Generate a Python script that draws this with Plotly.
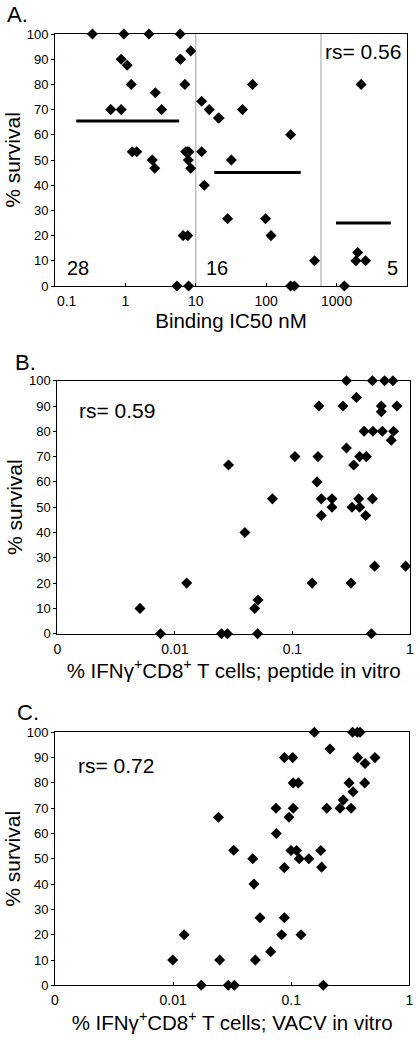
import math
import plotly.graph_objects as go

FONT = "Liberation Sans, Arial, sans-serif"
NB = "\u00a0"

# ---------------- Panel A data ----------------
a_ic50_nM = [0.34, 0.95, 2.16, 6.0,
             0.87, 6.0, 6.1,
             1.06, 8.46,
             1.21, 7.0,
             2.66,
             0.62, 0.87, 3.27,
             1.25, 1.45, 7.18, 8.0, 7.6,
             2.41, 7.83,
             2.61, 8.46,
             6.6, 7.7,
             5.4, 7.9,
             12.1, 15.5, 21, 21.5, 46, 64, 222, 12.1, 32, 13.2, 28.3, 98, 117, 222, 252, 486,
             2230, 1290, 1990, 1880, 2580]
a_survival = [100, 100, 100, 100,
              90, 90, 90,
              87.6, 93.3,
              80, 80,
              76.7,
              70, 70, 70,
              53.3, 53.3, 53.3, 53.3, 53.3,
              50, 50,
              46.7, 46.7,
              20, 20,
              0, 0,
              73.3, 70, 66.7, 66.7, 70, 80, 60, 53.3, 50, 40, 26.7, 26.7, 20, 0, 0, 10,
              80, 0, 13.3, 10, 10]
a_group_counts = ["28", "16", "5"]
a_count_x = [0.21, 20, 6300]
a_group_mean = [65.5, 45.0, 25.0]
a_mean_x_start = [0.2, 18.3, 980]
a_mean_x_end = [5.8, 309, 5900]
a_dividers = [10, 600]
a_rs = "rs= 0.56"
a_ticks = [0.1, 1, 10, 100, 1000, 10000]
a_ticktext = [NB * 6 + "0.1", "1", "10", "100", "1000", "10000" + NB * 10]

# ---------------- Panel B data ----------------
b_pct_ifng = [0.288, 0.479, 0.608, 0.716, 0.35, 0.168, 0.269, 0.57, 0.57, 0.774,
              0.407, 0.484, 0.582, 0.725, 0.693, 0.105, 0.165, 0.288, 0.373, 0.425,
              0.332, 0.0286,
              0.162, 0.176, 0.217, 0.217, 0.176, 0.321, 0.366, 0.373, 0.42, 0.479,
              0.0676, 0.0394, 0.0126, 0.147, 0.315, 0.5, 0.918, 0.00505, 0.0478, 0.051,
              0.00755, 0.0249, 0.028, 0.0505, 0.469]
b_survival = [100, 100, 100, 100, 93.4, 90, 90, 90, 87.7, 90,
              80, 80, 80, 80, 76.5, 70, 70, 73.4, 70, 70,
              66.7, 66.7,
              60, 53.3, 53.3, 50, 46.7, 50, 53.3, 50, 46.7, 53.3,
              53.3, 40, 20, 20, 20, 26.7, 26.7, 10, 10, 13.3,
              0, 0, 0, 0, 0]
b_rs = "rs= 0.59"

# ---------------- Panel C data ----------------
c_pct_ifng = [0.157, 0.331, 0.363, 0.383, 0.213, 0.0875, 0.103, 0.366, 0.512, 0.422,
              0.104, 0.115, 0.309, 0.419, 0.334, 0.276, 0.0743, 0.104, 0.2, 0.259,
              0.321, 0.0958, 0.0242, 0.0748,
              0.0326, 0.0472, 0.0484, 0.0875, 0.0996, 0.111, 0.117, 0.141, 0.178, 0.181,
              0.0544, 0.0875, 0.0124, 0.083, 0.121, 0.067, 0.00993, 0.0248, 0.0497,
              0.0173, 0.0293, 0.033, 0.187]
c_survival = [100, 100, 100, 100, 93.4, 90, 90, 90, 90, 87.7,
              80, 80, 80, 80, 76.5, 73.2, 70, 70, 70, 70,
              70, 66.4, 66.4, 60,
              53.4, 50, 40, 46.5, 53.3, 53.3, 50, 50, 53.3, 46.7,
              26.7, 26.7, 20, 20, 20, 13.3, 10, 10, 10,
              0, 0, 0, 0]
c_rs = "rs= 0.72"

bc_ticks = [0.001, 0.01, 0.1, 1]
bc_ticktext = ["0", "0.01", "0.1", "1"]
y_ticks = list(range(0, 101, 10))

fig = go.Figure()

marker = dict(symbol="diamond", size=8.5, color="black", line=dict(width=0))

# Panel A
for d in a_dividers:
    fig.add_trace(go.Scatter(x=[d, d], y=[0, 100], mode="lines",
                             line=dict(color="#a0a0a0", width=1),
                             xaxis="x", yaxis="y", showlegend=False, hoverinfo="skip"))
for x0, x1, m in zip(a_mean_x_start, a_mean_x_end, a_group_mean):
    fig.add_trace(go.Scatter(x=[x0, x1], y=[m, m], mode="lines",
                             line=dict(color="black", width=3),
                             xaxis="x", yaxis="y", showlegend=False))
fig.add_trace(go.Scatter(x=a_ic50_nM, y=a_survival, mode="markers", marker=marker,
                         xaxis="x", yaxis="y", showlegend=False, cliponaxis=False))
# Panel B
fig.add_trace(go.Scatter(x=b_pct_ifng, y=b_survival, mode="markers", marker=marker,
                         xaxis="x2", yaxis="y2", showlegend=False, cliponaxis=False))
# Panel C
fig.add_trace(go.Scatter(x=c_pct_ifng, y=c_survival, mode="markers", marker=marker,
                         xaxis="x3", yaxis="y3", showlegend=False, cliponaxis=False))

W, H = 418, 1043


def px_x(p):
    return p / W


def px_y(p):
    return 1 - p / H


def xax(domain, rng, tickvals, ticktext, title, anchor):
    return dict(type="log", range=rng, domain=domain, anchor=anchor,
                tickmode="array", tickvals=tickvals, ticktext=ticktext,
                ticks="inside", ticklen=3, tickcolor="black", ticklabelstandoff=2,
                showline=True, linecolor="black", linewidth=1, mirror=True,
                showgrid=False, zeroline=False, automargin=False,
                tickfont=dict(family=FONT, size=14, color="black"),
                title=dict(text=title, font=dict(family=FONT, size=20.5, color="black"), standoff=4))


def yax(domain, anchor):
    return dict(range=[0, 100], domain=domain, anchor=anchor,
                tickmode="array", tickvals=y_ticks,
                ticks="outside", ticklen=3, tickcolor="black",
                showline=True, linecolor="black", linewidth=1, mirror=True,
                showgrid=False, zeroline=False, automargin=False,
                tickfont=dict(family=FONT, size=13, color="black"),
                title=dict(text="% survival", font=dict(family=FONT, size=21, color="black"), standoff=0))


fig.update_layout(
    width=W, height=H,
    margin=dict(l=0, r=0, t=0, b=0),
    template="none",
    paper_bgcolor="white", plot_bgcolor="white",
    font=dict(family=FONT, color="black"),
    showlegend=False,
    xaxis=xax([px_x(55), px_x(407)], [-1, 4], a_ticks, a_ticktext, "Binding IC50 nM", "y"),
    yaxis=yax([px_y(286), px_y(34)], "x"),
    xaxis2=xax([px_x(57.3), px_x(410)], [-3, 0], bc_ticks, bc_ticktext,
               "% IFNγ<sup>+</sup>CD8<sup>+</sup> T cells; peptide in vitro", "y2"),
    yaxis2=yax([px_y(633.7), px_y(380.7)], "x2"),
    xaxis3=xax([px_x(55), px_x(409.3)], [-3, 0], bc_ticks, bc_ticktext,
               "% IFNγ<sup>+</sup>CD8<sup>+</sup> T cells; VACV in vitro", "y3"),
    yaxis3=yax([px_y(985.3), px_y(732.3)], "x3"),
)

ann = []
# group counts
for txt, xv in zip(a_group_counts, a_count_x):
    ann.append(dict(text=txt, x=math.log10(xv), y=7, xref="x", yref="y",
                    showarrow=False, font=dict(family=FONT, size=20, color="black"),
                    xanchor="center", yanchor="middle"))
ann.append(dict(text=a_rs, x=math.log10(2370), y=92.9, xref="x", yref="y", showarrow=False,
                font=dict(family=FONT, size=21, color="black"), xanchor="center", yanchor="middle"))
ann.append(dict(text=b_rs, x=math.log10(0.0032), y=88.1, xref="x2", yref="y2", showarrow=False,
                font=dict(family=FONT, size=21, color="black"), xanchor="center", yanchor="middle"))
ann.append(dict(text=c_rs, x=math.log10(0.0033), y=86.8, xref="x3", yref="y3", showarrow=False,
                font=dict(family=FONT, size=21, color="black"), xanchor="center", yanchor="middle"))
# panel letters
for txt, xp, yp in [("A.", 5, 15), ("B.", 13, 362), ("C.", 15, 712.5)]:
    ann.append(dict(text=txt, x=px_x(xp), y=px_y(yp), xref="paper", yref="paper",
                    showarrow=False, font=dict(family=FONT, size=22, color="black"),
                    xanchor="left", yanchor="middle"))
fig.update_layout(annotations=ann)

fig.write_html("out.html",
               config={"displayModeBar": False},
               post_script="document.body.style.margin='0';document.body.style.overflow='hidden';")
